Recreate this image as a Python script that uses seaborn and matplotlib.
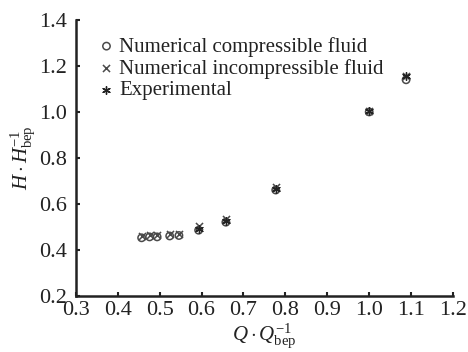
import matplotlib
matplotlib.use("Agg")
import matplotlib.pyplot as plt
import seaborn as sns
import pandas as pd

q_comp = [0.457, 0.476, 0.494, 0.524, 0.546, 0.593, 0.658, 0.777, 1.000, 1.088]
h_comp = [0.452, 0.456, 0.456, 0.460, 0.462, 0.485, 0.520, 0.660, 1.000, 1.140]
q_incomp = [0.457, 0.476, 0.494, 0.524, 0.546, 0.593, 0.658, 0.777, 1.000, 1.088]
h_incomp = [0.458, 0.465, 0.466, 0.470, 0.470, 0.505, 0.535, 0.675, 1.005, 1.157]
q_exp = [0.593, 0.658, 0.777, 1.000, 1.088]
h_exp = [0.490, 0.525, 0.665, 1.005, 1.155]

labels = ["Numerical compressible fluid", "Numerical incompressible fluid", "Experimental"]
xticks = [0.3, 0.4, 0.5, 0.6, 0.7, 0.8, 0.9, 1.0, 1.1, 1.2]
yticks = [0.2, 0.4, 0.6, 0.8, 1.0, 1.2, 1.4]

sns.set_theme(style="ticks")
plt.rcParams["font.family"] = ["Liberation Serif", "DejaVu Serif"]
plt.rcParams["mathtext.fontset"] = "custom"
plt.rcParams["mathtext.rm"] = "Liberation Serif"
plt.rcParams["mathtext.it"] = "Liberation Serif:italic"

fig = plt.figure(figsize=(4.68, 3.52), dpi=100)
ax = fig.add_axes([0.162, 0.16, 0.806, 0.783])

c = "#4a4a4a"
df_c = pd.DataFrame({"q": q_comp, "h": h_comp})
df_i = pd.DataFrame({"q": q_incomp, "h": h_incomp})
df_e = pd.DataFrame({"q": q_exp, "h": h_exp})

sns.scatterplot(data=df_c, x="q", y="h", ax=ax, marker="o", s=28,
                facecolor="none", edgecolor=c, linewidth=1.1, label=labels[0])
sns.scatterplot(data=df_i, x="q", y="h", ax=ax, marker="x", s=26,
                color=c, linewidth=1.1, label=labels[1])
sns.scatterplot(data=df_e, x="q", y="h", ax=ax, marker=(6, 2, 0), s=30,
                color="#222222", edgecolor="#222222", linewidth=1.0, label=labels[2])

ax.set_xlim(0.3, 1.2)
ax.set_ylim(0.2, 1.4)
ax.set_xticks(xticks)
ax.set_yticks(yticks)
ax.set_xticklabels([f"{t:.1f}" for t in xticks])
ax.set_yticklabels([f"{t:.1f}" for t in yticks])
ax.tick_params(direction="in", length=3, width=1.5, labelsize=16, colors="#222222")
ax.tick_params(axis="x", pad=4)
ax.tick_params(axis="y", pad=6)
for sp in ["left", "bottom"]:
    ax.spines[sp].set_linewidth(1.8)
    ax.spines[sp].set_color("#222222")
sns.despine(ax=ax)

ax.set_xlabel(r"$Q\cdot Q_{\rm bep}^{-1}$", fontsize=15, labelpad=1, color="#222222")
ax.set_ylabel(r"$H\cdot H_{\rm bep}^{-1}$", fontsize=15, labelpad=1, color="#222222")

leg = ax.legend(loc="upper left", frameon=False, fontsize=15, handletextpad=0.0,
                borderaxespad=0.2, labelspacing=0.1, handlelength=1.2,
                bbox_to_anchor=(0.015, 0.985))
for t in leg.get_texts():
    t.set_color("#222222")

fig.savefig("out.png", dpi=100)
